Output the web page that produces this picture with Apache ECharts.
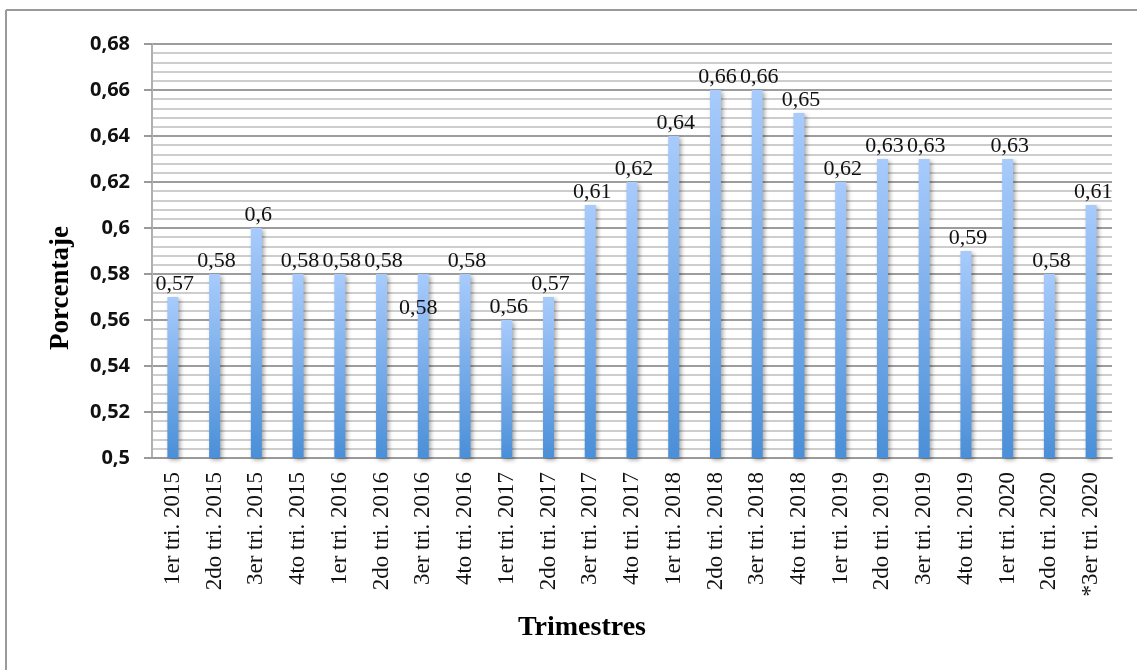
<!DOCTYPE html>
<html>
<head>
<meta charset="utf-8">
<script src="https://cdn.jsdelivr.net/npm/echarts@6/dist/echarts.min.js"></script>
<style>
  html, body { margin: 0; padding: 0; background: #ffffff; }
  #chart { width: 1137px; height: 670px; }
</style>
</head>
<body>
<div id="chart"></div>
<script>
// Quarterly percentages, 2015 – 2020
const categories = [
  '1er tri. 2015', '2do tri. 2015', '3er tri. 2015', '4to tri. 2015',
  '1er tri. 2016', '2do tri. 2016', '3er tri. 2016', '4to tri. 2016',
  '1er tri. 2017', '2do tri. 2017', '3er tri. 2017', '4to tri. 2017',
  '1er tri. 2018', '2do tri. 2018', '3er tri. 2018', '4to tri. 2018',
  '1er tri. 2019', '2do tri. 2019', '3er tri. 2019', '4to tri. 2019',
  '1er tri. 2020', '2do tri. 2020', '*3er tri. 2020'
];
const values = [
  0.57, 0.58, 0.60, 0.58,
  0.58, 0.58, 0.58, 0.58,
  0.56, 0.57, 0.61, 0.62,
  0.64, 0.66, 0.66, 0.65,
  0.62, 0.63, 0.63, 0.59,
  0.63, 0.58, 0.61
];
// index of the quarter whose value label sits inside the bar
const insideLabelIndex = [6];

const axisNameX = 'Trimestres';
const axisNameY = 'Porcentaje';

const comma = v => String(Math.round(v * 100) / 100).replace('.', ',');

const serif = '"Liberation Serif", "Times New Roman", serif';

const barData = values.map((v, i) => {
  if (insideLabelIndex.includes(i)) {
    return { value: v, label: { position: 'insideTop', offset: [-5, 21] } };
  }
  return v;
});

const chart = echarts.init(document.getElementById('chart'), null, { renderer: 'canvas' });

chart.setOption({
  backgroundColor: '#ffffff',
  animation: false,
  grid: { left: 152, top: 44, right: 25, bottom: 212, containLabel: false },
  xAxis: {
    type: 'category',
    data: categories,
    axisLine: { lineStyle: { color: '#9a9a9a', width: 2 } },
    axisTick: { show: false },
    axisLabel: {
      rotate: 90,
      margin: 14,
      interval: 0,
      color: '#111',
      fontFamily: serif,
      fontSize: 23
    }
  },
  yAxis: {
    type: 'value',
    min: 0.5,
    max: 0.68,
    interval: 0.02,
    axisLine: { show: true, lineStyle: { color: '#b0b0b0', width: 2 } },
    axisTick: { show: true, length: 8, lineStyle: { color: '#9a9a9a', width: 2 } },
    axisLabel: {
      margin: 22,
      color: '#111',
      fontFamily: '"Open Sans", sans-serif',
      fontWeight: 'bold',
      fontSize: 20,
      formatter: comma
    },
    splitLine: { show: true, lineStyle: { color: '#9d9d9d', width: 2 } },
    minorTick: { show: false, splitNumber: 5 },
    minorSplitLine: { show: true, lineStyle: { color: '#cdcdcd', width: 2 } }
  },
  series: [{
    type: 'bar',
    data: barData,
    barWidth: 11,
    itemStyle: {
      color: new echarts.graphic.LinearGradient(0, 0, 0, 1, [
        { offset: 0, color: '#a8cbfc' },
        { offset: 1, color: '#4a8fd8' }
      ]),
      shadowColor: 'rgba(0,0,0,0.35)',
      shadowBlur: 4,
      shadowOffsetX: 2,
      shadowOffsetY: 2
    },
    label: {
      show: true,
      position: 'top',
      distance: 2,
      offset: [2, 0],
      color: '#111',
      fontFamily: serif,
      fontSize: 22,
      formatter: p => comma(p.value)
    }
  }],
  graphic: [
    // frame: top and left edges
    { type: 'line', shape: { x1: 6, y1: 10, x2: 1137, y2: 10 }, style: { stroke: '#9a9a9a', lineWidth: 2 } },
    { type: 'line', shape: { x1: 6, y1: 10, x2: 6, y2: 670 }, style: { stroke: '#9a9a9a', lineWidth: 2 } },
    {
      type: 'text',
      x: 582, y: 628,
      style: {
        text: axisNameX,
        fill: '#000',
        font: 'bold 28px ' + serif,
        textAlign: 'center',
        textVerticalAlign: 'middle'
      }
    },
    {
      type: 'text',
      x: 61, y: 288,
      rotation: Math.PI / 2,
      style: {
        text: axisNameY,
        fill: '#000',
        font: 'bold 27px ' + serif,
        textAlign: 'center',
        textVerticalAlign: 'middle'
      }
    }
  ]
});
</script>
</body>
</html>
